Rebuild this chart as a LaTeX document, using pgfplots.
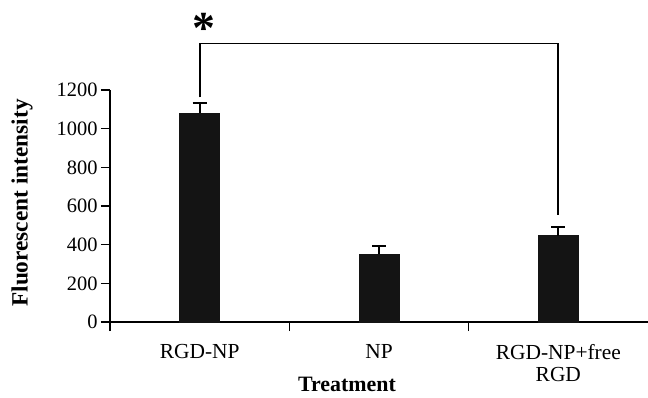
\documentclass[border=0pt]{standalone}
\usepackage{fontspec}
\setmainfont{Liberation Serif}
\usepackage{pgfplots}
\pgfplotsset{compat=1.18}
\pgfplotstableread{
x y e
0.5 1079 52
1.5 350 41
2.5 447 46
}\datatab
\begin{document}
\begin{tikzpicture}
\begin{axis}[
  at={(0,0)}, anchor=south west,
  scale only axis, width=538bp, height=232bp,
  xmin=0, xmax=3, ymin=0, ymax=1200,
  axis lines=left, axis line style={-, line width=1.3bp},
  clip=false,
  ybar, bar width=40bp,
  xtick={0,1,2}, xticklabels={},
  extra x ticks={0.5,1.5,2.5},
  extra x tick labels={RGD-NP,NP,{RGD-NP+free\\RGD}},
  extra x tick style={major tick length=0pt},
  xticklabel style={align=center, font=\fontsize{21.5}{22}\selectfont, yshift=-19bp},
  ytick={0,200,...,1200},
  yticklabel style={font=\fontsize{20.5}{22}\selectfont},
  /pgf/number format/assume math mode=true,
  /pgf/number format/set thousands separator={},
  tick align=outside, major tick length=9bp,
  tick style={line width=1.3bp, black},
  xlabel={Treatment},
  ylabel={Fluorescent intensity},
  xlabel style={font=\fontsize{22}{24}\selectfont\bfseries, at={(axis description cs:0.4405,-0.267)}, anchor=center},
  ylabel style={font=\fontsize{23.4}{25}\selectfont\bfseries, at={(axis description cs:-0.1636,0.513)}, anchor=center},
]
\addplot[fill=black!92, draw=black!92,
  error bars/.cd, y dir=plus, y explicit,
  error bar style={line width=2bp, black},
  error mark options={rotate=90, mark size=7bp, line width=2bp, black}]
  table[x=x, y=y, y error=e]{\datatab};
\draw[line width=1.8bp] (axis cs:0.5,1162) |- (axis cs:2.5,1440) -- (axis cs:2.5,551);
\node[font=\fontsize{46}{46}\selectfont\bfseries, anchor=base, inner sep=0pt] at (axis cs:0.525,1438) {*};
\end{axis}
\pgfresetboundingbox
\path (-110bp,-76bp) rectangle (538bp,322bp);
\end{tikzpicture}
\end{document}
